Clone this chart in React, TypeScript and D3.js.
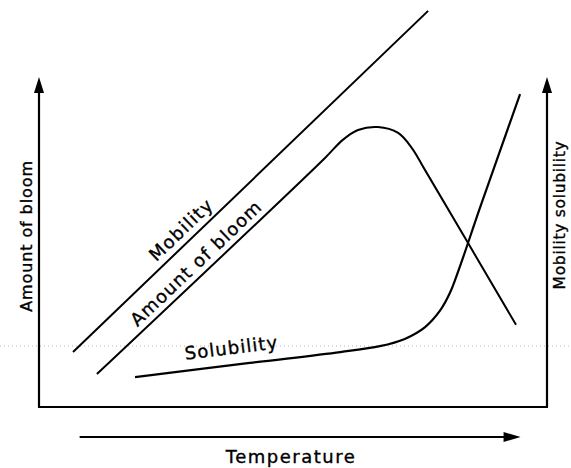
import React from "react";
import * as d3 from "d3";

// Schematic values (Temperature 0..100 on x, relative amount 0..100 on y)
const mobilityTemp = [6.7, 76.6];
const mobilityVal = [16.7, 120.4];

const bloomTemp = [11.4, 56.3, 59.8, 62.8, 66.7, 70.7, 73.4, 76.0, 93.9];
const bloomVal = [10.0, 75.7, 81.2, 84.2, 85.1, 83.3, 78.7, 72.0, 25.0];

const solubilityTemp = [18.9, 41.5, 59.3, 67.1, 72.0, 76.0, 78.9, 80.9, 82.9, 86.8, 94.7];
const solubilityVal = [9.1, 13.4, 16.7, 18.5, 20.7, 24.3, 29.2, 34.7, 42.9, 60.5, 95.1];

const xTitle = "Temperature";
const yLeftTitle = "Amount of bloom";
const yRightTitle = "Mobility solubility";
const labelMobility = "Mobility";
const labelBloom = "Amount of bloom";
const labelSolubility = "Solubility";

const W = 571;
const H = 468;
const FONT = "'DejaVu Sans', Verdana, sans-serif";

export default function App() {
  const x = d3.scaleLinear().domain([0, 100]).range([39, 547]);
  const y = d3.scaleLinear().domain([0, 100]).range([407, 78]);

  const line = d3
    .line<[number, number]>()
    .x((d) => x(d[0]))
    .y((d) => y(d[1]))
    .curve(d3.curveCatmullRom.alpha(0.5));

  const mob = mobilityTemp.map((t, i) => [t, mobilityVal[i]] as [number, number]);
  const bloom = bloomTemp.map((t, i) => [t, bloomVal[i]] as [number, number]);
  const sol = solubilityTemp.map((t, i) => [t, solubilityVal[i]] as [number, number]);

  const angleOf = (a: [number, number], b: [number, number]) =>
    (Math.atan2(y(b[1]) - y(a[1]), x(b[0]) - x(a[0])) * 180) / Math.PI;

  const mobAngle = angleOf(mob[0], mob[1]);
  const bloomAngle = angleOf(bloom[0], bloom[1]);
  const solAngle = angleOf(sol[0], sol[2]);

  const along = (a: [number, number], b: [number, number], t: number) => {
    const f = (t - a[0]) / (b[0] - a[0]);
    return [t, a[1] + f * (b[1] - a[1])] as [number, number];
  };

  const mobLbl = along(mob[0], mob[1], 29.8);
  const bloomLbl = along(bloom[0], bloom[1], 32.6);
  const solLbl = along(sol[0], sol[2], 38.3);

  const x0 = x.range()[0];
  const x1 = x.range()[1];
  const yb = y.range()[0];
  const yt = y.range()[1];

  const arrowUp = (cx: number) => `M${cx},${yt - 1} L${cx - 5},${yt + 15} L${cx + 5},${yt + 15} Z`;

  const tY = 437;
  const tX0 = x(8);
  const tX1 = x(94.8);

  const textStyle = { stroke: "#000", strokeWidth: 0.35 };

  return (
    <svg
      width={W}
      height={H}
      style={{ position: "absolute", left: 0, top: 0, background: "#fff" }}
      fontFamily={FONT}
    >
      <rect width={W} height={H} fill="#fff" />
      {/* faint scan dotted line */}
      <line x1={0} x2={W} y1={346} y2={346} stroke="#b8b8b8" strokeWidth={1} strokeDasharray="1 3" />

      {/* axes */}
      <line x1={x0} x2={x0} y1={yb} y2={yt + 10} stroke="#000" strokeWidth={2.2} />
      <line x1={x1} x2={x1} y1={yb} y2={yt + 10} stroke="#000" strokeWidth={2.2} />
      <line x1={x0 - 1} x2={x1 + 1} y1={yb} y2={yb} stroke="#000" strokeWidth={2.2} />
      <path d={arrowUp(x0)} fill="#000" />
      <path d={arrowUp(x1)} fill="#000" />

      {/* temperature arrow */}
      <line x1={tX0} x2={tX1 - 10} y1={tY} y2={tY} stroke="#000" strokeWidth={2} />
      <path d={`M${tX1},${tY} L${tX1 - 17},${tY - 5} L${tX1 - 17},${tY + 5} Z`} fill="#000" />

      {/* curves */}
      <path d={line(mob) || ""} fill="none" stroke="#000" strokeWidth={2} />
      <path d={line(bloom) || ""} fill="none" stroke="#000" strokeWidth={2} />
      <path d={line(sol) || ""} fill="none" stroke="#000" strokeWidth={2.2} />

      {/* curve labels */}
      <text
        transform={`translate(${x(mobLbl[0])},${y(mobLbl[1])}) rotate(${mobAngle})`}
        dy={-7}
        textAnchor="middle"
        fontSize={18}
        letterSpacing={1.3}
        fill="#000"
        style={textStyle}
      >
        {labelMobility}
      </text>
      <text
        transform={`translate(${x(bloomLbl[0])},${y(bloomLbl[1])}) rotate(${bloomAngle})`}
        dy={-6}
        textAnchor="middle"
        fontSize={18}
        letterSpacing={1.2}
        fill="#000"
        style={textStyle}
      >
        {labelBloom}
      </text>
      <text
        transform={`translate(${x(solLbl[0])},${y(solLbl[1])}) rotate(${solAngle})`}
        dy={-11}
        textAnchor="middle"
        fontSize={18}
        letterSpacing={1.1}
        fill="#000"
        style={textStyle}
      >
        {labelSolubility}
      </text>

      {/* axis titles */}
      <text
        transform={`translate(32,236) rotate(-90)`}
        textAnchor="middle"
        fontSize={16}
        letterSpacing={0.9}
        fill="#000"
        style={textStyle}
      >
        {yLeftTitle}
      </text>
      <text
        transform={`translate(565,215) rotate(-90)`}
        textAnchor="middle"
        fontSize={15.5}
        letterSpacing={0.7}
        fill="#000"
        style={textStyle}
      >
        {yRightTitle}
      </text>
      <text
        x={291}
        y={463}
        textAnchor="middle"
        fontSize={18}
        letterSpacing={1.5}
        fill="#000"
        style={textStyle}
      >
        {xTitle}
      </text>
    </svg>
  );
}
